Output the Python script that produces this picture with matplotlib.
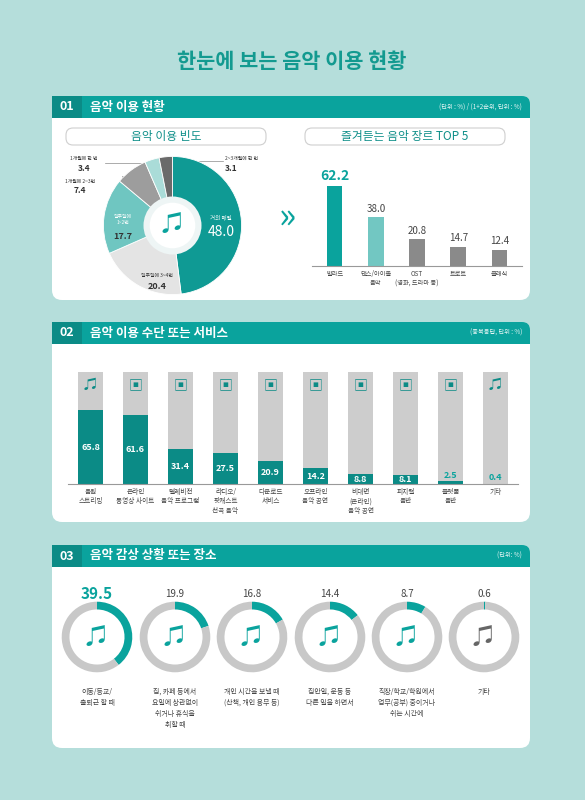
import matplotlib.pyplot as plt
from matplotlib.patches import FancyBboxPatch, Rectangle, Circle

plt.rcParams['font.family'] = ['Noto Sans CJK KR', 'DejaVu Sans']

TEAL = '#0aa39d'
DARK = '#0b8b86'
GRAY = '#c8c8c8'
BG = '#b5dedb'

# 01 - frequency donut
freq_labels = ['거의 매일', '일주일에 3~4번', '일주일에\n1~2번', '1개월에 2~3번', '1개월에 한 번', '2~3개월에 한 번']
freq_vals = [48.0, 20.4, 17.7, 7.4, 3.4, 3.1]
freq_colors = ['#0f9a94', '#e4e4e4', '#6fc6c1', '#9d9d9d', '#aadcd8', '#6a6a6a']

# 01 - genres
genres = ['발라드', '댄스/아이돌\n음악', 'OST\n(영화, 드라마 등)', '트로트', '클래식']
genre_vals = [62.2, 38.0, 20.8, 14.7, 12.4]
genre_colors = [TEAL, '#72c7c2', '#8a8a8a', '#8a8a8a', '#8a8a8a']

# 02 - services
services = ['음원\n스트리밍', '온라인\n동영상 사이트', '텔레비전\n음악 프로그램', '라디오/\n팟캐스트\n선곡 음악', '다운로드\n서비스',
            '오프라인\n음악 공연', '비대면\n(온라인)\n음악 공연', '피지컬\n음반', '플랫폼\n음반', '기타']
service_vals = [65.8, 61.6, 31.4, 27.5, 20.9, 14.2, 8.8, 8.1, 2.5, 0.4]

# 03 - situations
places = ['이동/등교/\n출퇴근 할 때', '집, 카페 등에서\n요일에 상관없이\n쉬거나 휴식을\n취할 때', '개인 시간을 보낼 때\n(산책, 개인 용무 등)',
          '집안일, 운동 등\n다른 일을 하면서', '직장/학교/학원에서\n업무(공부) 중이거나\n쉬는 시간에', '기타']
place_vals = [39.5, 19.9, 16.8, 14.4, 8.7, 0.6]

W, H = 585, 800
fig = plt.figure(figsize=(W / 100, H / 100), dpi=100, facecolor=BG)
bg = fig.add_axes([0, 0, 1, 1])
bg.set_xlim(0, W)
bg.set_ylim(H, 0)
bg.axis('off')


def fa(x0, y0, w, h):
    return fig.add_axes([x0 / W, 1 - (y0 + h) / H, w / W, h / H])


bg.text(292, 62, '한눈에 보는 음악 이용 현황', ha='center', va='center', fontsize=15, fontweight='bold', color='#139a90')


def panel(y0, y1, num, title, unit):
    bg.add_patch(FancyBboxPatch((52, y0), 478, y1 - y0, boxstyle='round,pad=0,rounding_size=10',
                                fc='white', ec='none'))
    bg.add_patch(FancyBboxPatch((52, y0), 478, 22, boxstyle='round,pad=0,rounding_size=8', fc=TEAL, ec='none'))
    bg.add_patch(Rectangle((52, y0 + 12), 478, 10, fc=TEAL, ec='none'))
    bg.add_patch(Rectangle((52, y0), 30, 22, fc=DARK, ec='none'))
    bg.text(67, y0 + 11, num, ha='center', va='center', color='white', fontsize=9, fontweight='bold')
    bg.text(90, y0 + 11, title, ha='left', va='center', color='white', fontsize=9, fontweight='bold')
    bg.text(522, y0 + 11, unit, ha='right', va='center', color='#e8f6f5', fontsize=4.5)


panel(96, 300, '01', '음악 이용 현황', '(단위 : %) / (1+2순위, 단위 : %)')
panel(322, 522, '02', '음악 이용 수단 또는 서비스', '(중복응답, 단위 : %)')
panel(545, 748, '03', '음악 감상 상황 또는 장소', '(단위: %)')

for cx, t in [(166, '음악 이용 빈도'), (405, '즐겨듣는 음악 장르 TOP 5')]:
    bg.add_patch(FancyBboxPatch((cx - 100, 128), 200, 17, boxstyle='round,pad=0,rounding_size=7',
                                fc='white', ec='#cfcfcf', lw=0.8))
    bg.text(cx, 136.5, t, ha='center', va='center', fontsize=8.5, color='#0f8f89')

# donut
ax = fa(100, 153, 145, 145)
ax.pie(freq_vals, colors=freq_colors, startangle=90, counterclock=False, radius=1,
       wedgeprops=dict(width=0.6, ec='white', lw=0.6))
ax.add_patch(Circle((0, 0), 0.42, fc='#eef5f5', ec='none'))
ax.add_patch(Circle((0, 0), 0.33, fc='white', ec='none'))
ax.text(0, 0.02, '♫', ha='center', va='center', fontsize=16, color=TEAL)
ax.set_xlim(-1.05, 1.05)
ax.set_ylim(-1.05, 1.05)
ax.text(0.7, 0.12, freq_labels[0], ha='center', va='center', fontsize=4, color='white')
ax.text(0.7, -0.1, f'{freq_vals[0]:.1f}', ha='center', va='center', fontsize=10, color='white')
ax.text(-0.22, -0.72, freq_labels[1], ha='center', va='center', fontsize=3.5, color='#333')
ax.text(-0.22, -0.88, f'{freq_vals[1]:.1f}', ha='center', va='center', fontsize=6.5, fontweight='bold', color='#333')
ax.text(-0.72, 0.05, freq_labels[2] + '\n', ha='center', va='center', fontsize=3.5, color='white')
ax.text(-0.72, -0.16, f'{freq_vals[2]:.1f}', ha='center', va='center', fontsize=6.5, fontweight='bold', color='#333')
bg.text(84, 160, freq_labels[4], ha='center', fontsize=3.5, color='#333')
bg.text(84, 171, f'{freq_vals[4]:.1f}', ha='center', fontsize=6, fontweight='bold', color='#333')
bg.text(80, 183, freq_labels[3], ha='center', fontsize=3.5, color='#333')
bg.text(80, 193, f'{freq_vals[3]:.1f}', ha='center', fontsize=6, fontweight='bold', color='#333')
bg.text(225, 160, freq_labels[5], ha='left', fontsize=3.5, color='#333')
bg.text(225, 171, f'{freq_vals[5]:.1f}', ha='left', fontsize=6, fontweight='bold', color='#333')
bg.plot([105, 155, 155], [163, 163, 161], color='#8a8a8a', lw=0.5)
bg.plot([122, 122, 137], [185, 176, 176], color='#8a8a8a', lw=0.5)
bg.plot([170, 223], [161, 161], color='#8a8a8a', lw=0.5)
bg.text(287, 218, '»', ha='center', va='center', fontsize=26, color=TEAL)

# genre bars
ax = fa(312, 170, 210, 96)
x = range(len(genres))
ax.bar(x, genre_vals, width=0.38, color=genre_colors)
for i, v in enumerate(genre_vals):
    ax.text(i, v + 3, f'{v:.1f}', ha='center', va='bottom', fontsize=10 if i == 0 else 7,
            color=TEAL if i == 0 else '#444', fontweight='bold' if i == 0 else 'normal')
ax.set_ylim(0, 75)
ax.set_xlim(-0.55, 4.55)
ax.set_xticks(list(x), genres, fontsize=4.5, color='#444')
ax.tick_params(length=0, pad=3)
ax.set_yticks([])
for s in ['top', 'right', 'left']:
    ax.spines[s].set_visible(False)
ax.spines['bottom'].set_color('#999')
ax.patch.set_alpha(0)

# services bars
ax = fa(68, 372, 450, 112)
x = range(len(services))
ax.bar(x, [100] * len(services), width=0.56, color='#cdcdcd')
ax.bar(x, service_vals, width=0.56, color=DARK)
for i, v in enumerate(service_vals):
    inside = v > 5
    y = max(v / 2, 4) if inside else v + 5
    ax.text(i, y, f'{v:.1f}', ha='center', va='center', fontsize=6.5, fontweight='bold',
            color='white' if inside else TEAL)
    ax.text(i, 88, '♫' if i in (0, 9) else '▣', ha='center', va='center', fontsize=10, color=DARK)
ax.set_ylim(0, 100)
ax.set_xlim(-0.5, 9.5)
ax.set_xticks(list(x), services, fontsize=4.8, color='#444', va='top')
ax.tick_params(length=0, pad=3)
ax.set_yticks([])
for s in ['top', 'right', 'left']:
    ax.spines[s].set_visible(False)
ax.spines['bottom'].set_color('#999')
ax.patch.set_alpha(0)

# place rings
centers = [97, 175, 252, 330, 407, 484]
for i, (cx, v) in enumerate(zip(centers, place_vals)):
    ax = fa(cx - 36, 637 - 36, 72, 72)
    ax.pie([v, 100 - v], colors=[TEAL, GRAY], startangle=90, counterclock=False,
           wedgeprops=dict(width=0.22))
    ax.set_xlim(-1.02, 1.02)
    ax.set_ylim(-1.02, 1.02)
    ax.text(0, 0, '♫', ha='center', va='center', fontsize=16, color=TEAL if i < 5 else '#666')
    bg.text(cx, 594, f'{v:.1f}', ha='center', va='center', fontsize=11 if i == 0 else 7,
            fontweight='bold' if i == 0 else 'normal', color=TEAL if i == 0 else '#444')
    bg.text(cx, 688, places[i], ha='center', va='top', fontsize=5, color='#444', linespacing=1.5)

fig.savefig('out.png', dpi=100, facecolor=BG)
